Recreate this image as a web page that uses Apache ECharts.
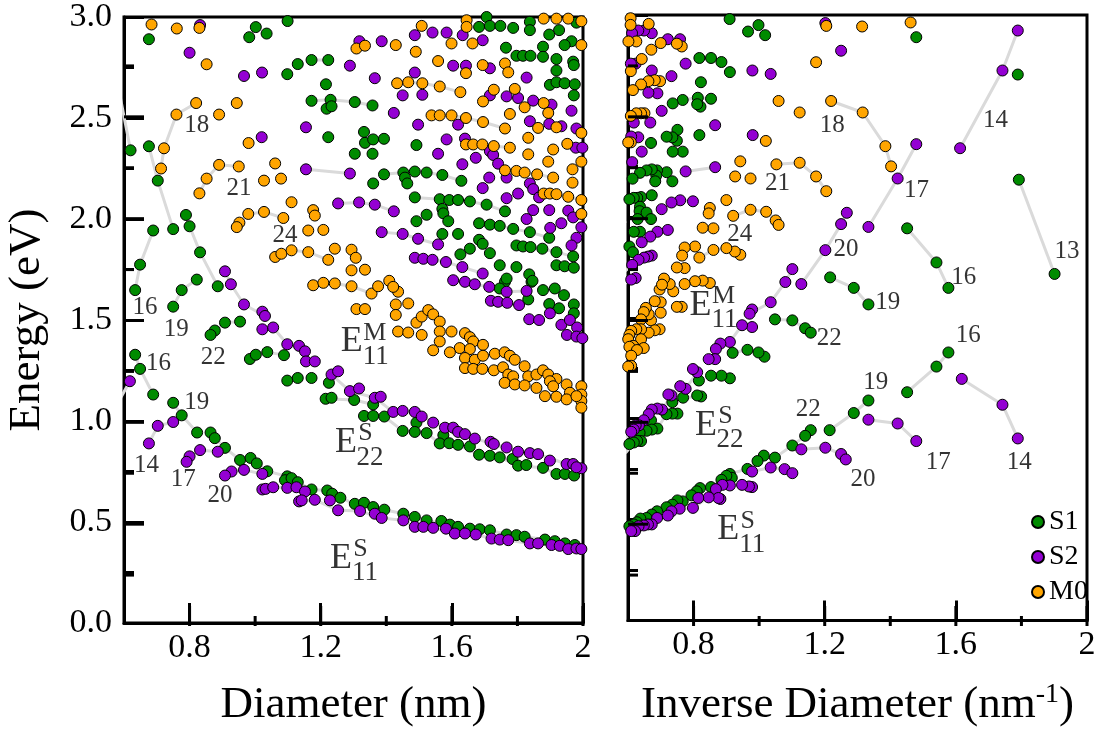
<!DOCTYPE html>
<html>
<head>
<meta charset="utf-8">
<script src="https://cdn.jsdelivr.net/npm/echarts@6.0.0/dist/echarts.min.js"></script>
<style>
html,body{margin:0;padding:0;background:#fff;}
#chart{width:1100px;height:733px;}
</style>
</head>
<body>
<div id="chart"></div>
<script>
// ---------- data: [diameter (nm), energy (eV)] ----------
const S1 = [
[0.676,2.89],[1.002,2.95],[0.982,2.90],[1.035,2.918],[1.099,2.98],[1.098,2.717],[1.13,2.767],
[0.689,1.943],[0.649,1.774],[0.822,1.70],[0.776,1.648],[0.634,1.648],
[0.75,1.566],[0.908,1.487],[0.954,1.492],[0.877,1.448],[0.864,1.426],[0.984,1.307],[1.002,1.328],[1.037,1.341],[1.088,1.326],[1.098,1.20],[1.13,1.213],
[0.634,1.328],[0.649,1.258],[0.689,1.131],[0.75,1.09],[0.776,1.028],[0.823,0.943],[0.864,0.943],[0.877,0.915],[0.908,0.867],[0.954,0.807],[0.986,0.817],[1.005,0.79],[1.037,0.751],[1.098,0.726],[1.091,0.707],[1.111,0.717],[1.13,0.697],
[1.172,0.661],[1.22,0.656],[1.235,0.64],[1.26,0.62],[1.304,0.59],[1.332,0.595],[1.36,0.574],[1.394,0.561],[1.452,0.541],[1.487,0.525],[1.523,0.508],[1.568,0.505],[1.594,0.487],[1.619,0.476],[1.655,0.467],[1.685,0.464],[1.716,0.459],[1.767,0.438],[1.797,0.435],[1.822,0.427],[1.884,0.413],[1.914,0.405],[1.945,0.394],[1.975,0.386],
[1.172,1.213],[1.225,1.189],[1.215,1.11],[1.233,1.115],[1.302,1.104],[1.36,1.082],[1.332,1.025],[1.36,1.025],[1.394,1.022],[1.492,0.992],[1.45,0.951],[1.487,0.946],[1.523,0.94],[1.574,0.93],[1.563,0.889],[1.592,0.89],[1.619,0.882],[1.655,0.874],[1.683,0.833],[1.716,0.828],[1.746,0.82],[1.785,0.812],[1.802,0.779],[1.827,0.782],[1.878,0.768],[1.919,0.738],[1.945,0.738],[1.973,0.73],
[1.762,1.689],[1.843,1.689],[1.878,1.648],[1.914,1.656],[1.942,1.623],[1.833,1.602],[1.897,1.579],[1.927,1.558],[1.972,1.577],[1.972,1.533],
[1.683,2.951],[1.706,3.0],[1.716,2.956],[1.748,2.956],[1.787,2.946],[1.838,2.976],[1.838,2.935],[1.98,2.972],[1.927,2.935],[1.897,2.913],[1.965,2.88],[1.944,2.861],[1.878,2.853],[1.765,2.848],[1.797,2.808],[1.817,2.808],[1.84,2.808],[1.878,2.803],[1.919,2.792],[1.97,2.779],[1.972,2.762],[1.919,2.735],[1.899,2.664],[1.919,2.677],[1.944,2.672],[1.975,2.667],[1.972,2.612],
[1.172,2.787],[1.223,2.787],[1.216,2.667],[1.172,2.585],[1.23,2.59],[1.218,2.546],[1.233,2.558],[1.304,2.579],[1.358,2.562],[1.223,2.405],[1.332,2.431],[1.335,2.377],[1.36,2.394],[1.393,2.397],[1.492,2.366],[1.304,2.323],[1.358,2.323],[1.393,2.221],[1.36,2.176],[1.452,2.23],[1.457,2.205],[1.464,2.176],[1.487,2.235],[1.523,2.23],[1.571,2.218],[1.629,2.189],[1.487,2.107],[1.563,2.098],[1.592,2.094],[1.619,2.094],[1.655,2.087],[1.706,2.071],[1.762,2.038],[1.571,2.05],[1.574,2.028],[1.523,2.021],[1.492,1.989],[1.589,1.989],[1.683,1.979],[1.716,1.972],[1.746,1.966],[1.787,1.951],[1.838,1.935],[1.897,1.907],[1.571,1.926],[1.619,1.926],[1.683,1.897],[1.694,1.877],[1.655,1.853],[1.626,1.825],[1.716,1.831],[1.746,1.771],[1.797,1.869],[1.817,1.864],[1.84,1.861],[1.876,1.853],[1.919,1.836],[1.97,1.815],[1.919,1.771],[1.944,1.766],[1.972,1.759],[1.797,1.762],[1.836,1.726],[1.767,1.705],[1.846,1.694],[1.746,1.656],
[0.559,2.705],[0.558,2.184],[0.526,1.717]
];
// points drawn green in the diameter panel and violet in the inverse-diameter panel (as in the reference)
const S2_E22_LOW = [[0.62,2.34],[0.676,2.36],[0.703,2.19],[0.75,1.95],[0.789,2.02],[0.80,1.964],[0.832,1.835],[0.886,1.667]];
const S2 = [
[0.832,2.96],[0.80,2.823],[0.966,2.708],[1.021,2.725],[1.02,2.405],[0.908,1.741],[0.926,1.677],
[0.966,1.577],[1.022,1.541],[1.03,1.52],[1.022,1.454],[1.055,1.463],[1.098,1.38],[1.134,1.372],[0.618,1.197],[0.75,0.995],[0.703,0.976],[0.676,0.889],[0.832,0.856],[0.886,0.848],[0.80,0.825],[0.791,0.798],[0.966,0.758],[0.928,0.75],[0.908,0.73],[1.022,0.738],[1.022,0.661],[1.032,0.664],[1.055,0.672],[1.098,0.669],[1.134,0.602],
[1.126,0.672],[1.152,0.651],[1.142,0.607],[1.182,0.61],[1.228,0.607],[1.253,0.558],[1.32,0.554],[1.365,0.541],[1.386,0.52],[1.452,0.508],[1.487,0.476],[1.513,0.476],[1.543,0.471],[1.582,0.467],[1.609,0.443],[1.64,0.443],[1.673,0.438],[1.721,0.418],[1.746,0.413],[1.772,0.41],[1.838,0.394],[1.863,0.394],[1.904,0.386],[1.929,0.382],[1.955,0.366],[1.98,0.369],[1.995,0.366],
[1.152,1.345],[1.155,1.295],[1.182,1.295],[1.233,1.23],[1.253,1.246],[1.289,1.148],[1.317,1.161],[1.365,1.115],[1.383,1.12],[1.421,1.045],[1.45,1.05],[1.487,1.045],[1.508,1.022],[1.543,0.992],[1.579,0.967],[1.604,0.967],[1.619,0.946],[1.64,0.935],[1.67,0.913],[1.718,0.897],[1.728,0.886],[1.767,0.869],[1.802,0.848],[1.838,0.841],[1.863,0.836],[1.899,0.804],[1.95,0.787],[1.97,0.787],[1.995,0.766],[1.98,0.771],
[1.604,1.697],[1.64,1.689],[1.67,1.677],[1.714,1.664],[1.719,1.595],[1.741,1.59],[1.769,1.585],[1.805,1.574],[1.836,1.504],[1.866,1.5],[1.899,1.533],[1.934,1.476],[1.96,1.5],[1.982,1.463],[1.951,1.426],[1.98,1.418],[1.998,1.41],
[1.487,2.91],[1.541,2.923],[1.584,2.923],[1.633,2.91],[1.318,2.88],[1.386,2.88],[1.694,2.885],[1.604,2.759],[1.643,2.759],[1.716,2.746],[1.828,2.70],[1.289,2.759],[1.365,2.697],[1.487,2.725],[1.45,2.612],[1.51,2.615],[1.423,2.525],[1.716,2.612],[1.767,2.607],[1.802,2.599],[1.848,2.586],[1.904,2.566],[1.965,2.536],[1.619,2.467],[1.497,2.467],[1.155,2.454],[1.584,2.394],[1.64,2.398],[1.838,2.484],[1.897,2.471],[1.934,2.459],[1.98,2.448],[1.978,2.353],[1.998,2.353],[1.716,2.336],[1.726,2.317],[1.673,2.303],[1.741,2.274],[1.558,2.323],[1.632,2.271],[1.155,2.246],[1.289,2.225],[1.714,2.205],[1.767,2.205],[1.694,2.153],[1.838,2.176],[1.848,2.148],[1.866,2.107],[1.802,2.126],[1.767,2.103],[1.848,2.044],[1.897,2.044],[1.955,2.041],[1.97,2.008],[1.995,1.959],[1.934,1.979],[1.9,1.956],[1.828,2.0],[1.98,1.907],[1.965,1.869],[1.253,2.077],[1.317,2.082],[1.365,2.071],[1.423,2.038],[1.386,1.935],[1.45,1.926],[1.497,1.902],[1.558,1.874],[1.487,1.808],[1.513,1.803],[1.541,1.798],[1.582,1.787],[1.632,1.762],[1.694,1.73],[1.767,1.64],[1.828,1.644],
[0.559,2.923],[0.574,2.725],[0.574,1.069],[0.559,0.902]
];
const M0 = [
[0.684,2.963],[0.761,2.943],[0.83,2.946],[0.852,2.766],[0.82,2.574],[0.76,2.517],[0.944,2.574],[0.89,2.517],[0.722,2.35],[0.713,2.25],[0.98,2.376],[0.89,2.268],[0.95,2.26],[0.852,2.20],[0.83,2.127],[1.061,2.275],[1.027,2.19],[1.079,2.20],[1.111,2.083],[0.979,2.025],[1.027,2.035],[0.952,1.982],[0.944,1.96],[1.086,2.005],[1.061,1.812],[1.08,1.828],[1.111,1.845],
[1.508,2.956],[1.645,2.984],[1.645,2.951],[1.88,2.992],[1.919,2.992],[1.955,2.992],[1.995,2.979],[1.995,2.861],[1.309,2.844],[1.335,2.858],[1.429,2.861],[1.49,2.828],[1.599,2.869],[1.663,2.869],[1.558,2.782],[1.643,2.722],[1.694,2.762],[1.762,2.77],[1.772,2.726],[1.433,2.672],[1.467,2.677],[1.51,2.672],[1.563,2.656],[1.626,2.628],[1.728,2.64],[1.792,2.644],[1.695,2.582],[1.822,2.553],[1.88,2.574],[1.894,2.525],[1.777,2.52],[1.538,2.513],[1.563,2.513],[1.599,2.513],[1.643,2.50],[1.695,2.48],[1.762,2.448],[1.643,2.369],[1.665,2.369],[1.693,2.369],[1.728,2.361],[1.863,2.451],[1.919,2.454],[1.995,2.426],[1.833,2.402],[1.777,2.353],[1.833,2.32],[1.909,2.344],[1.952,2.372],[1.894,2.284],[1.995,2.284],[1.762,2.241],[1.797,2.238],[1.822,2.23],[1.86,2.221],[1.909,2.205],[1.968,2.246],[1.968,2.18],[1.88,2.126],[1.899,2.126],[1.919,2.123],[1.955,2.11],[1.995,2.094],[1.995,2.025],
[1.177,2.044],[1.182,2.017],[1.162,1.943],[1.208,1.946],[1.162,1.836],[1.223,1.798],[1.243,1.853],[1.294,1.848],[1.307,1.808],[1.294,1.746],[1.335,1.749],[1.177,1.672],[1.208,1.684],[1.243,1.681],[1.294,1.667],[1.355,1.631],[1.375,1.667],[1.409,1.694],[1.436,1.64],[1.421,1.664],
[1.309,1.554],[1.335,1.554],[1.429,1.577],[1.467,1.582],[1.429,1.525],[1.492,1.487],[1.508,1.517],[1.528,1.549],[1.543,1.528],[1.563,1.492],[1.436,1.443],[1.467,1.438],[1.508,1.426],[1.563,1.443],[1.599,1.443],[1.563,1.394],[1.64,1.435],[1.655,1.415],[1.665,1.394],[1.695,1.377],[1.624,1.361],[1.655,1.356],[1.543,1.35],[1.594,1.34],[1.64,1.312],[1.67,1.303],[1.695,1.323],[1.731,1.333],[1.761,1.34],[1.777,1.323],[1.792,1.303],[1.64,1.262],[1.665,1.258],[1.693,1.258],[1.728,1.251],[1.756,1.266],[1.772,1.23],[1.787,1.221],[1.822,1.271],[1.833,1.221],[1.858,1.23],[1.878,1.251],[1.894,1.23],[1.919,1.208],[1.899,1.197],[1.761,1.189],[1.792,1.181],[1.822,1.176],[1.858,1.164],[1.884,1.123],[1.909,1.172],[1.919,1.12],[1.95,1.181],[1.96,1.14],[1.95,1.107],[1.995,1.172],[1.995,1.131],[1.995,1.099],[1.995,1.066],[1.98,1.123]
];
// gray family lines (2n+m = const), [diameter, energy]
const FAMILY_LINES = [
[[0.559,0.902],[0.574,1.069],[0.618,1.197]],
[[0.559,2.923],[0.574,2.725],[0.62,2.34]],
[[0.526,1.717],[0.558,2.184]],
[[0.634,1.328],[0.649,1.258],[0.689,1.131]],
[[0.634,1.648],[0.649,1.774],[0.689,1.943]],
[[0.676,0.889],[0.703,0.976],[0.75,0.995]],
[[0.676,2.36],[0.703,2.19],[0.75,1.95]],
[[0.75,1.09],[0.776,1.028],[0.823,0.943]],
[[0.75,1.566],[0.776,1.648],[0.822,1.70]],
[[0.791,0.798],[0.80,0.825],[0.832,0.856],[0.886,0.848]],
[[0.789,2.02],[0.80,1.964],[0.832,1.835],[0.886,1.667]],
[[0.864,0.943],[0.877,0.915],[0.908,0.867],[0.954,0.807]],
[[0.864,1.426],[0.877,1.448],[0.908,1.487],[0.954,1.492]],
[[0.908,0.73],[0.928,0.75],[0.966,0.758],[1.022,0.738]],
[[0.908,1.741],[0.926,1.677],[0.966,1.577],[1.03,1.52]],
[[0.986,0.817],[1.005,0.79],[1.037,0.751],[1.098,0.726]],
[[0.984,1.307],[1.002,1.328],[1.037,1.341],[1.088,1.326]],
[[1.022,0.661],[1.032,0.664],[1.055,0.672],[1.098,0.669],[1.126,0.672]],
[[1.022,1.454],[1.055,1.463],[1.098,1.38],[1.152,1.345]],
[[0.713,2.25],[0.722,2.35],[0.76,2.517],[0.82,2.574]],
[[0.83,2.127],[0.852,2.20],[0.89,2.268],[0.95,2.26]],
[[0.944,1.96],[0.952,1.982],[0.979,2.025],[1.027,2.035],[1.086,2.005]],
[[1.061,1.812],[1.08,1.828],[1.111,1.845],[1.162,1.836],[1.223,1.798]],
[[1.177,1.672],[1.208,1.684],[1.243,1.681],[1.294,1.667],[1.355,1.631]],
[[1.253,2.077],[1.317,2.082],[1.365,2.071],[1.423,2.038]],
[[1.386,1.935],[1.45,1.926],[1.497,1.902],[1.558,1.874]],
[[1.487,1.808],[1.513,1.803],[1.541,1.798],[1.582,1.787],[1.632,1.762],[1.694,1.73]],
[[1.155,2.246],[1.289,2.225]],
[[1.172,2.787],[1.223,2.787]],
[[1.172,2.585],[1.23,2.59],[1.304,2.579],[1.358,2.562]],
[[1.393,2.221],[1.452,2.23],[1.487,2.235],[1.523,2.23],[1.571,2.218],[1.629,2.189]],
[[1.487,2.107],[1.563,2.098],[1.592,2.094],[1.619,2.094],[1.655,2.087],[1.706,2.071],[1.762,2.038]],
[[1.683,1.979],[1.716,1.972],[1.746,1.966],[1.787,1.951],[1.838,1.935],[1.897,1.907]],
[[1.797,1.869],[1.817,1.864],[1.84,1.861],[1.876,1.853],[1.919,1.836],[1.97,1.815]],
[[1.604,1.697],[1.64,1.689],[1.67,1.677],[1.714,1.664],[1.767,1.64],[1.828,1.644]],
[[1.719,1.595],[1.741,1.59],[1.769,1.585],[1.805,1.574]],
[[1.433,2.672],[1.467,2.677],[1.51,2.672],[1.563,2.656],[1.626,2.628]],
[[1.538,2.513],[1.563,2.513],[1.599,2.513],[1.643,2.50],[1.695,2.48],[1.762,2.448]],
[[1.643,2.369],[1.665,2.369],[1.693,2.369],[1.728,2.361],[1.777,2.353]],
[[1.762,2.241],[1.797,2.238],[1.822,2.23],[1.86,2.221],[1.909,2.205]],
[[1.88,2.126],[1.899,2.126],[1.919,2.123],[1.955,2.11],[1.995,2.094]],
[[1.13,0.697],[1.172,0.661],[1.22,0.656],[1.26,0.62],[1.304,0.59],[1.36,0.574],[1.394,0.561],[1.452,0.541],[1.487,0.525],[1.523,0.508],[1.594,0.487],[1.619,0.476],[1.655,0.467],[1.716,0.459],[1.767,0.438],[1.822,0.427],[1.884,0.413],[1.945,0.394],[1.975,0.386]],
[[1.134,0.602],[1.182,0.61],[1.253,0.558],[1.32,0.554],[1.386,0.52],[1.452,0.508],[1.487,0.476],[1.543,0.471],[1.609,0.443],[1.673,0.438],[1.721,0.418],[1.772,0.41],[1.838,0.394],[1.904,0.386],[1.955,0.366],[1.995,0.366]],
[[1.215,1.11],[1.302,1.104],[1.36,1.082]],
[[1.332,1.025],[1.394,1.022],[1.45,0.951],[1.523,0.94],[1.563,0.889],[1.619,0.882],[1.683,0.833],[1.746,0.82],[1.802,0.779],[1.878,0.768],[1.919,0.738],[1.973,0.73]],
[[1.233,1.23],[1.289,1.148],[1.365,1.115],[1.421,1.045],[1.487,1.045],[1.543,0.992],[1.604,0.967],[1.67,0.913],[1.728,0.886],[1.802,0.848],[1.863,0.836],[1.95,0.787],[1.995,0.766]]
];
// family number labels: [x, energy, text]
const LEFT_LABELS = [
[0.822,2.464,'18'],[0.951,2.151,'21'],[1.091,1.918,'24'],[0.664,1.563,'16'],[0.759,1.454,'19'],[0.872,1.317,'22'],
[0.705,1.287,'16'],[0.822,1.094,'19'],[0.669,0.782,'14'],[0.781,0.713,'17'],[0.893,0.631,'20']
];
const RIGHT_LABELS = [
[1.223,2.454,'18'],[1.056,2.167,'21'],[0.941,1.913,'24'],[1.265,1.836,'20'],[1.721,2.476,'14'],[1.48,2.131,'17'],
[1.939,1.828,'13'],[1.624,1.70,'16'],[1.392,1.574,'19'],[1.214,1.398,'22'],[1.15,1.045,'22'],[1.638,1.41,'16'],
[1.356,1.18,'19'],[1.317,0.70,'20'],[1.546,0.782,'17'],[1.793,0.782,'14']
];
// transition labels: [x, energy, superscript, subscript]
const LEFT_E = [[1.295,1.392,'M','11'],[1.277,0.893,'S','22'],[1.262,0.32,'S','11']];
const RIGHT_E = [[0.821,1.562,'M','11'],[0.838,0.967,'S','22'],[0.906,0.45,'S','11']];
// tick values
const X_TICKS = [0.8,1.2,1.6,2.0];
const X_MINOR = [1.0,1.4,1.8];
const Y_TICKS = [0.5,1.0,1.5,2.0,2.5];
const Y_MINOR = [0.25,0.75,1.25,1.75,2.25,2.75];

// ---------- chart ----------
const FONT = "'Liberation Serif','Times New Roman',serif";
const GREEN = '#008b00', VIOLET = '#9400d3', ORANGE = '#ffa500';
const X_MIN = 0.6, X_MAX = 2.0, Y_MIN = 0, Y_MAX = 3;
const GRID_LEFT = [124, 628], GRID_TOP = 15, GRID_W = 459, GRID_H = 611;
const inv = p => [1 / p[0], p[1]];

function xAx(gi, name) {
  return {
    type:'value', gridIndex:gi, min:X_MIN, max:X_MAX, position:'bottom',
    axisLine:{show:true, onZero:false, lineStyle:{color:'#000', width:3}},
    axisTick:{show:true, inside:true, length:20, customValues:X_TICKS, lineStyle:{color:'#000', width:3}},
    axisLabel:{show:true, customValues:X_TICKS, margin:8, fontSize:34, fontFamily:FONT, color:'#000',
      formatter: v => Math.abs(v - 2) < 1e-9 ? '2' : v.toFixed(1)},
    splitLine:{show:false},
    name:name, nameLocation:'middle', nameGap:60,
    nameTextStyle:{fontSize:45, fontFamily:FONT, color:'#000',
      rich:{a:{fontSize:45, fontFamily:FONT, color:'#000', lineHeight:50},
            b:{fontSize:28, fontFamily:FONT, color:'#000', verticalAlign:'top', lineHeight:28}}}
  };
}
function yAx(gi, showLabel) {
  return {
    type:'value', gridIndex:gi, min:Y_MIN, max:Y_MAX, interval:0.5,
    axisLine:{show:true, onZero:false, lineStyle:{color:'#000', width:3}},
    axisTick:{show:true, inside:true, length:20, lineStyle:{color:'#000', width:3}},
    minorTick:{show:true, splitNumber:2, length:10, lineStyle:{color:'#000', width:3}},
    axisLabel:{show:showLabel, margin:12, fontSize:34, fontFamily:FONT, color:'#000', formatter: v => v.toFixed(1)},
    splitLine:{show:false}, minorSplitLine:{show:false},
    name: showLabel ? 'Energy (eV)' : '', nameLocation:'middle', nameGap:74,
    nameTextStyle:{fontSize:45, fontFamily:FONT, color:'#000'}
  };
}
function scatter(name, data, xi, yi, color) {
  return {type:'scatter', name:name, data:data, xAxisIndex:xi, yAxisIndex:yi, symbolSize:11,
    itemStyle:{color:color, borderColor:'#000', borderWidth:1, opacity:1}, z:3, silent:true, clip:true};
}
function lineSeries(data, xi, yi) {
  return {type:'line', data:data, xAxisIndex:xi, yAxisIndex:yi, symbol:'none', silent:true, clip:true,
    lineStyle:{color:'#dadada', width:3}, z:1};
}
function numLabels(list, xi, yi) {
  return {type:'scatter', xAxisIndex:xi, yAxisIndex:yi, symbolSize:1, silent:true, z:5,
    itemStyle:{color:'rgba(0,0,0,0)'},
    data:list.map(l => ({value:[l[0], l[1]], name:l[2]})),
    label:{show:true, position:'inside', formatter:'{b}', fontSize:25, fontFamily:FONT, color:'#000'}};
}
function eLabels(list, xi, yi) {
  const d = [];
  list.forEach(l => {
    const supX = l[2] === 'M' ? 23 : 19.5;
    d.push({value:[l[0], l[1]], label:{formatter:'E', fontSize:36}});
    d.push({value:[l[0], l[1]], label:{formatter:l[2], fontSize:26, offset:[supX, -9]}});
    d.push({value:[l[0], l[1]], label:{formatter:l[3], fontSize:27, offset:[24, 15]}});
  });
  return {type:'scatter', xAxisIndex:xi, yAxisIndex:yi, symbolSize:1, silent:true, z:5,
    itemStyle:{color:'rgba(0,0,0,0)'}, data:d,
    label:{show:true, position:'inside', fontFamily:FONT, color:'#000'}};
}

// inward tick marks as graphic lines placed at the axis values of each grid
function toPx(gi, x, y) {
  return [GRID_LEFT[gi] + (x - X_MIN) / (X_MAX - X_MIN) * GRID_W,
          GRID_TOP + GRID_H - (y - Y_MIN) / (Y_MAX - Y_MIN) * GRID_H];
}
function tickGraphics() {
  const els = [];
  const add = (p, dx, dy) => els.push({type:'line', silent:true, z:100, zlevel:0,
    shape:{x1:p[0], y1:p[1], x2:p[0] + dx, y2:p[1] + dy}, style:{stroke:'#000', lineWidth:3}});
  [0, 1].forEach(gi => {
    X_TICKS.forEach(v => add(toPx(gi, v, Y_MIN), 0, -20));
    X_MINOR.forEach(v => add(toPx(gi, v, Y_MIN), 0, -10));
    Y_TICKS.forEach(v => add(toPx(gi, X_MIN, v), 20, 0));
    Y_MINOR.forEach(v => add(toPx(gi, X_MIN, v), 10, 0));
  });
  return els;
}

const series = [];
FAMILY_LINES.forEach(f => { series.push(lineSeries(f, 0, 0)); series.push(lineSeries(f.map(inv), 1, 1)); });
series.push(scatter('S1', S1.concat(S2_E22_LOW), 0, 0, GREEN));
series.push(scatter('S2', S2, 0, 0, VIOLET));
series.push(scatter('M0', M0, 0, 0, ORANGE));
series.push(scatter('S1', S1.map(inv), 1, 1, GREEN));
series.push(scatter('S2', S2.concat(S2_E22_LOW).map(inv), 1, 1, VIOLET));
series.push(scatter('M0', M0.map(inv), 1, 1, ORANGE));
series.push(numLabels(LEFT_LABELS, 0, 0));
series.push(numLabels(RIGHT_LABELS, 1, 1));
series.push(eLabels(LEFT_E, 0, 0));
series.push(eLabels(RIGHT_E, 1, 1));

const chart = echarts.init(document.getElementById('chart'));
chart.setOption({
  animation:false,
  grid:[
    {left:GRID_LEFT[0], top:GRID_TOP, width:GRID_W, height:GRID_H, show:true, borderColor:'#000', borderWidth:3},
    {left:GRID_LEFT[1], top:GRID_TOP, width:GRID_W, height:GRID_H, show:true, borderColor:'#000', borderWidth:3}
  ],
  xAxis:[xAx(0, 'Diameter (nm)'), xAx(1, '{a|Inverse Diameter (nm}{b|-1}{a|)}')],
  yAxis:[yAx(0, true), yAx(1, false)],
  legend:{data:['S1','S2','M0'], orient:'vertical', left:1026, top:503, itemWidth:12, itemHeight:12, itemGap:7,
    icon:'circle', selectedMode:false, textStyle:{fontSize:28, fontFamily:FONT, color:'#000'}},
  graphic:{elements:tickGraphics()},
  series:series
});
</script>
</body>
</html>
